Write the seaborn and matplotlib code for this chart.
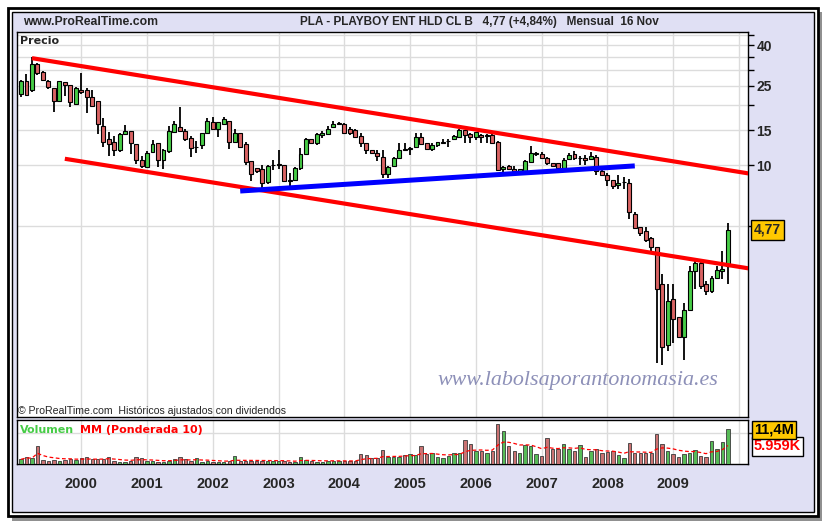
import numpy as np
import pandas as pd
import seaborn as sns
from matplotlib import pyplot as plt
from matplotlib import transforms
from matplotlib.patches import Rectangle


# monthly candles, Feb 1999 .. Nov 2009 (prices adjusted, USD)
FIRST_MONTH = "1999-02"
OPEN = [22.7, 26.5, 23.8, 32.1, 29.2, 26.5, 24.3, 20.9, 26.2, 25.2,
        20.4, 23.8, 23.8, 21.9, 21.1, 15.8, 13.5, 13.1, 11.9, 14.4,
        14.9, 12.8, 10.6, 9.8, 11.7, 12.9, 10.6, 11.8, 14.7, 15.6,
        14.9, 13.7, 12.3, 12.7, 14.6, 16.5, 15.2, 16.1, 16.7, 13.1,
        14.6, 12.8, 10.5, 9.7, 9.6, 8.3, 10.0, 10.1, 10.0, 8.43,
        8.45, 9.7, 11.4, 13.5, 13.0, 14.2, 14.35, 15.6, 16.2, 16.1,
        15.15, 15.1, 14.0, 13.0, 11.95, 11.6, 11.0, 9.05, 9.9, 10.95,
        12.05, 12.15, 12.4, 13.8, 13.0, 12.05, 12.65, 13.0, 13.25, 13.5,
        13.9, 15.0, 14.35, 13.8, 14.2, 14.0, 14.2, 13.15, 9.55, 9.95,
        9.65, 9.4, 9.4, 10.4, 11.45, 11.4, 10.85, 10.25, 10.25, 9.7,
        10.75, 11.4, 10.95, 10.85, 10.75, 11.05, 9.4, 9.0, 8.45, 7.95,
        8.25, 8.2, 5.75, 4.9, 4.7, 4.35, 3.9, 2.55, 1.26, 2.15,
        1.75, 1.38, 1.9, 2.95, 3.25, 2.55, 2.35, 2.75, 2.95, 3.15]
HIGH = [26.7, 28.6, 34.7, 32.4, 29.7, 26.7, 24.3, 26.4, 26.2, 25.4,
        24.6, 28.9, 24.3, 23.8, 21.1, 17.2, 14.7, 14.0, 14.5, 15.9,
        14.9, 12.8, 11.1, 11.8, 13.4, 13.0, 12.1, 15.8, 16.7, 19.5,
        15.3, 14.0, 13.3, 14.6, 17.2, 17.4, 16.4, 17.4, 16.7, 15.2,
        14.6, 13.1, 10.5, 9.7, 10.0, 10.0, 10.7, 11.9, 10.05, 9.2,
        9.8, 12.2, 13.7, 13.5, 14.6, 14.9, 15.75, 16.7, 16.5, 16.3,
        15.6, 15.3, 14.5, 13.0, 11.95, 11.95, 11.9, 9.9, 11.05, 13.0,
        13.0, 12.4, 14.6, 14.6, 13.0, 12.9, 13.05, 13.55, 13.55, 14.2,
        15.2, 15.05, 14.5, 14.75, 14.35, 14.35, 14.3, 13.2, 9.95, 10.05,
        9.95, 9.6, 10.65, 12.5, 11.7, 11.7, 11.05, 10.25, 10.3, 10.95,
        11.5, 11.8, 11.15, 11.25, 11.7, 11.3, 9.6, 9.15, 8.5, 8.95,
        8.8, 8.55, 5.85, 4.95, 4.9, 4.4, 3.9, 2.85, 2.55, 2.55,
        1.75, 2.05, 3.15, 3.35, 3.3, 2.65, 2.8, 3.15, 3.75, 5.15]
LOW = [22.1, 22.4, 23.2, 28.2, 26.5, 24.0, 18.6, 20.9, 22.2, 19.5,
       20.2, 22.8, 18.2, 19.9, 14.4, 12.3, 11.2, 11.2, 11.7, 14.2,
       11.4, 10.2, 9.7, 9.7, 11.6, 9.8, 9.6, 11.5, 14.7, 14.7,
       13.2, 11.0, 11.6, 12.1, 14.5, 15.0, 13.9, 16.1, 12.1, 12.9,
       12.3, 10.1, 8.4, 9.2, 7.7, 8.1, 9.5, 9.6, 8.3, 7.7,
       8.4, 9.5, 11.3, 12.9, 12.7, 13.7, 14.3, 15.5, 15.9, 14.35,
       14.2, 13.8, 12.4, 11.4, 11.4, 10.55, 8.7, 8.65, 9.8, 10.85,
       11.9, 11.3, 12.3, 12.8, 11.9, 11.85, 12.3, 12.9, 12.4, 13.4,
       13.8, 13.0, 13.0, 13.4, 13.0, 12.9, 12.9, 9.4, 9.2, 9.55,
       9.3, 9.35, 9.35, 10.3, 11.2, 10.85, 10.05, 9.9, 9.65, 9.6,
       10.7, 10.7, 10.05, 10.05, 10.7, 8.95, 8.95, 7.9, 7.65, 7.65,
       7.65, 5.4, 4.85, 4.45, 4.15, 3.75, 1.03, 1.0, 1.18, 1.3,
       1.38, 1.07, 1.88, 2.4, 2.4, 2.25, 2.3, 2.7, 2.7, 2.55]
CLOSE = [26.5, 22.4, 32.1, 28.9, 26.9, 24.6, 20.9, 26.4, 25.4, 20.7,
         24.3, 23.2, 21.9, 19.9, 16.1, 13.1, 12.8, 11.9, 14.3, 14.9,
         12.9, 10.6, 9.9, 11.6, 12.8, 10.6, 11.9, 14.9, 16.1, 14.9,
         13.5, 12.2, 12.4, 14.6, 16.7, 15.2, 16.4, 17.1, 13.1, 14.6,
         12.4, 10.4, 9.1, 9.4, 8.2, 9.9, 10.05, 10.15, 8.4, 8.4,
         9.7, 11.4, 13.6, 13.0, 14.3, 14.6, 15.3, 16.1, 16.25, 14.6,
         14.55, 13.9, 12.9, 11.9, 11.5, 11.1, 9.05, 9.8, 10.95, 11.9,
         11.9, 12.2, 13.8, 12.8, 12.05, 12.65, 13.05, 13.15, 13.3, 14.0,
         15.0, 14.2, 13.8, 14.65, 13.8, 14.2, 13.0, 9.5, 9.85, 9.65,
         9.4, 9.55, 10.55, 11.6, 11.5, 10.95, 10.25, 9.95, 9.7, 10.7,
         11.25, 10.85, 10.95, 10.65, 11.15, 9.4, 9.0, 8.45, 7.9, 8.2,
         8.3, 5.85, 4.85, 4.6, 4.25, 3.9, 2.42, 1.23, 2.1, 1.7,
         1.39, 1.9, 2.95, 3.25, 2.5, 2.35, 2.75, 3.0, 3.05, 4.77]
VOLUME_M = [1.6, 2.3, 1.9, 5.9, 1.4, 1.1, 1.4, 1.1, 1.4, 1.7,
            1.4, 1.9, 2.3, 1.6, 1.6, 1.6, 2.3, 1.1, 0.75, 0.75,
            1.1, 2.3, 1.9, 1.2, 1.1, 0.75, 0.75, 1.2, 1.6, 2.3,
            1.6, 1.1, 1.9, 0.75, 1.1, 0.75, 0.75, 0.75, 1.2, 2.7,
            1.2, 1.2, 1.2, 1.1, 1.2, 1.2, 1.1, 1.1, 1.1, 0.75,
            0.75, 2.3, 1.4, 1.1, 0.85, 0.85, 1.2, 1.1, 1.1, 1.1,
            1.1, 1.1, 3.3, 3.0, 1.9, 1.9, 4.6, 2.3, 2.3, 2.3,
            3.0, 3.3, 3.0, 5.9, 3.2, 3.5, 2.3, 1.9, 2.8, 3.5,
            3.8, 7.8, 6.5, 4.4, 4.3, 3.5, 4.4, 13.1, 10.8, 5.9,
            4.4, 3.8, 6.2, 5.9, 3.2, 2.7, 8.4, 4.9, 4.9, 6.5,
            4.9, 4.3, 6.2, 2.3, 4.3, 4.8, 3.5, 4.1, 4.3, 3.0,
            1.9, 6.8, 3.6, 3.8, 3.6, 3.6, 9.8, 6.5, 4.3, 3.3,
            2.3, 3.3, 3.5, 4.6, 2.7, 2.3, 7.5, 4.8, 7.1, 11.4]

YEARS = list(range(2000, 2011))
PRICE_TICKS = [5, 10, 15, 20, 25, 30, 35, 40, 45]
PRICE_LABELS = {10: "10", 15: "15", 25: "25", 40: "40"}
VOLUME_GRID = [10]

# hand drawn trend lines (month, price)
UPPER_CHANNEL = [("1999-04", 34.4), ("2010-03", 9.1)]
LOWER_CHANNEL = [("1999-10", 10.8), ("2010-03", 3.05)]
SUPPORT = [("2002-06", 7.45), ("2008-06", 9.95)]

TITLE = "PLA - PLAYBOY ENT HLD CL B   4,77 (+4,84%)   Mensual  16 Nov"
LAST_PRICE_TXT = "4,77"
LAST_VOL_TXT = "11,4M"
LAST_MA_TXT = "5.959K"

GREEN = "#46cc46"
RED = "#d96363"
LAVENDER = "#e0e0f4"
GRID = "#dcdcdc"
YELLOW = "#ffc800"
W, H = 826, 526


months = pd.period_range(FIRST_MONTH, periods=len(CLOSE), freq="M")


def month_pos(label):
    return (pd.Period(label, freq="M") - months[0]).n


def wma(values):
    w = np.arange(1, len(values) + 1)
    return np.dot(values, w) / w.sum()


df = pd.DataFrame({"pos": np.arange(len(CLOSE)), "open": OPEN, "high": HIGH,
                   "low": LOW, "close": CLOSE, "volume": VOLUME_M})
df["dir"] = np.where(df["close"] >= df["open"], "up", "down")
df["ma"] = df["volume"].rolling(10, min_periods=1).apply(wma, raw=True)

sns.set_style("white")
plt.rcParams["font.family"] = ["Liberation Sans", "DejaVu Sans"]

fig = plt.figure(figsize=(W / 100, H / 100), dpi=100)
fig.patch.set_facecolor("white")


def frame_rect(x0, y0, x1, y1, **kw):
    fig.add_artist(Rectangle((x0 / W, 1 - y1 / H), (x1 - x0) / W, (y1 - y0) / H,
                             transform=fig.transFigure, **kw))


# window frame with drop shadow
frame_rect(12, 12, 822, 521, facecolor="#909090", edgecolor="none", zorder=-12)
frame_rect(8, 8, 818, 516, facecolor="white", edgecolor="black", linewidth=2, zorder=-11)
frame_rect(11.5, 11.5, 814, 512, facecolor=LAVENDER, edgecolor="black",
           linewidth=1, zorder=-10)

ax = fig.add_axes([17 / W, 1 - 417 / H, (748 - 17) / W, (417 - 32) / H])
axv = fig.add_axes([17 / W, 1 - 464.3 / H, (748 - 17) / W, (464.3 - 420) / H])

# candles
colors = np.where(df["dir"] == "up", GREEN, RED)
ax.vlines(df["pos"], df["low"], df["high"], color="black", linewidth=1.3, zorder=2)
ax.bar(df["pos"], (df["close"] - df["open"]).abs(),
       bottom=df[["open", "close"]].min(axis=1), width=0.72, color=colors,
       edgecolor="black", linewidth=0.8, zorder=3)

for pts, col, lw in [(UPPER_CHANNEL, "#ff0000", 3.0), (LOWER_CHANNEL, "#ff0000", 3.0),
                     (SUPPORT, "#0000ff", 3.6)]:
    ax.plot([month_pos(m) for m, _ in pts], [p for _, p in pts], color=col,
            linewidth=lw, solid_capstyle="butt", zorder=5)

ax.set_yscale("log")
ax.set_ylim(0.552, 46.5)
ax.set_xlim(-0.73, 132.66)
ax.minorticks_off()
ax.yaxis.tick_right()
ax.set_yticks(PRICE_TICKS, labels=[PRICE_LABELS.get(t, "") for t in PRICE_TICKS])
year_pos = [month_pos(f"{y}-01") for y in YEARS]
ax.set_xticks(year_pos, labels=[])
ax.tick_params(axis="x", length=0)
ax.tick_params(axis="y", direction="out", length=4, width=1, color="black",
               labelsize=10, pad=2)
for lab in ax.get_yticklabels():
    lab.set_fontweight("bold")
ax.grid(True, color=GRID, linewidth=1)
ax.set_axisbelow(True)
for sp in ax.spines.values():
    sp.set_color("black")
    sp.set_linewidth(1)

# volume + weighted moving average
sns.barplot(data=df, x="pos", y="volume", hue="dir",
            palette={"up": GREEN, "down": RED}, native_scale=True, width=0.62,
            dodge=False, edgecolor="#3a3a3a", linewidth=0.6, legend=False,
            ax=axv, zorder=3)
sns.lineplot(data=df, x="pos", y="ma", color="#ff0000", linewidth=0.9,
             linestyle=(0, (3, 2)), ax=axv, zorder=4)
axv.set_xlim(-0.73, 132.66)
axv.set_ylim(0, 14.3)
axv.set_xlabel("")
axv.set_ylabel("")
axv.yaxis.tick_right()
axv.set_yticks(VOLUME_GRID, labels=[""])
axv.set_xticks(year_pos, labels=[str(y) if y < YEARS[-1] else "" for y in YEARS])
axv.tick_params(axis="x", direction="out", length=4, width=1, labelsize=10.5, pad=5)
axv.tick_params(axis="y", direction="out", length=4, width=1)
for lab in axv.get_xticklabels():
    lab.set_fontweight("bold")
axv.grid(True, color=GRID, linewidth=1)
axv.set_axisbelow(True)
for sp in axv.spines.values():
    sp.set_color("black")
    sp.set_linewidth(1)

# last value markers on the right
tr = transforms.blended_transform_factory(ax.transAxes, ax.transData)
ax.text(1.008, CLOSE[-1], LAST_PRICE_TXT, transform=tr, va="center", ha="left",
        fontsize=10, fontweight="bold",
        bbox=dict(boxstyle="square,pad=0.2", fc=YELLOW, ec="black", lw=1))
trv = transforms.blended_transform_factory(axv.transAxes, axv.transData)
axv.text(1.008, df["ma"].iloc[-1] - 0.3, LAST_MA_TXT, transform=trv, va="center",
         ha="left", fontsize=10.5, fontweight="bold", color="#ff0000",
         bbox=dict(boxstyle="square,pad=0.15", fc="white", ec="black", lw=1))
axv.text(1.008, VOLUME_M[-1] - 0.3, LAST_VOL_TXT, transform=trv, va="center",
         ha="left", fontsize=10.5, fontweight="bold", color="black",
         bbox=dict(boxstyle="square,pad=0.15", fc=YELLOW, ec="black", lw=1))

# texts
fig.text(23 / W, 1 - 22 / H, "www.ProRealTime.com", fontsize=8.8, fontweight="bold",
         va="center")
fig.text(300 / W, 1 - 22 / H, TITLE, fontsize=8.5, fontweight="bold", va="center")
fig.text(20 / W, 1 - 41 / H, "Precio", fontsize=8, fontweight="bold",
         family="DejaVu Sans", va="center")
fig.text(18 / W, 1 - 411 / H, "\u00a9 ProRealTime.com  Hist\u00f3ricos ajustados con dividendos",
         fontsize=7.6, va="center")
fig.text(20 / W, 1 - 430 / H, "Volumen", fontsize=8, fontweight="bold",
         family="DejaVu Sans", color=GREEN, va="center")
fig.text(80 / W, 1 - 430 / H, "MM (Ponderada 10)", fontsize=8, fontweight="bold",
         family="DejaVu Sans", color="#ff0000", va="center")
fig.text(437 / W, 1 - 381 / H, "www.labolsaporantonomasia.es", fontsize=15.8,
         family="Liberation Serif", style="italic", color="#8d90b8", va="center")

fig.savefig("out.png", dpi=100)
